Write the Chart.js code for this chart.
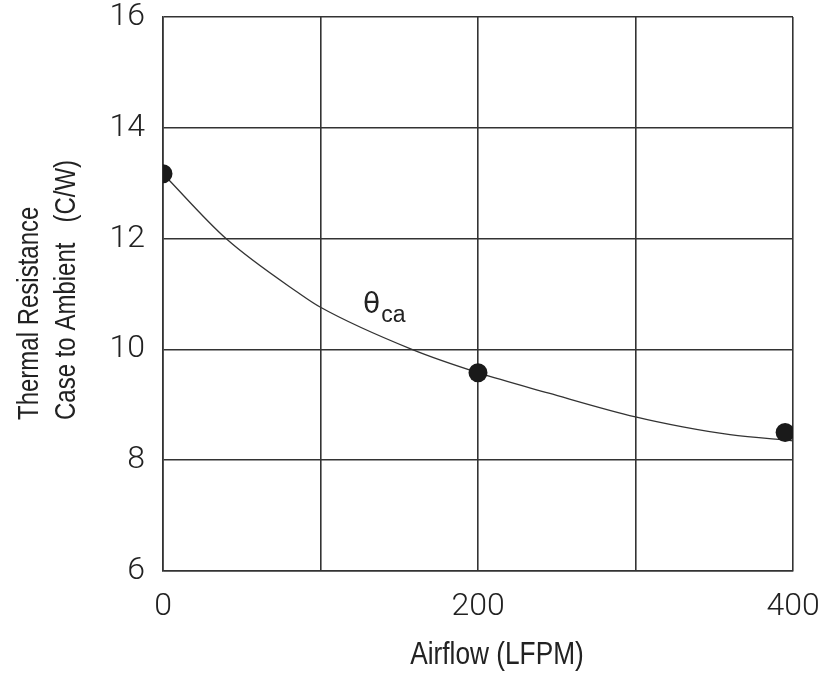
<!DOCTYPE html>
<html>
<head>
<meta charset="utf-8">
<title>Thermal Resistance vs Airflow</title>
<script src="https://cdn.jsdelivr.net/npm/chart.js@4.4.1/dist/chart.umd.min.js"></script>
<style>
  html, body { margin: 0; padding: 0; background: #ffffff; }
  #wrap { width: 829px; height: 675px; }
</style>
</head>
<body>
<div id="wrap"><canvas id="chart" width="829" height="675"></canvas></div>
<script>
// Measured points: case-to-ambient thermal resistance at each airflow
const airflow = [0, 200, 395];
const thetaCa = [13.17, 9.58, 8.5];

// Fitted trend curve drawn through the measurements
const curveAirflow = [0, 40, 87, 100, 158, 200, 245, 300, 330, 360, 400];
const curveTheta = [13.17, 12.0, 11.0, 10.76, 10.0, 9.58, 9.21, 8.78, 8.6, 8.46, 8.35];

// Axis ranges and labelled ticks
const xTicksLabelled = [0, 200, 400];
const yTicks = [6, 8, 10, 12, 14, 16];

const yTitleLines = ['Thermal Resistance', 'Case to Ambient   (C/W)'];
const xTitle = 'Airflow (LFPM)';
const curveName = 'θ';
const curveSub = 'ca';

const TEXT = '#222222';
const GRID = '#333333';
const TITLE_FONT = '"Liberation Sans", Arial, sans-serif';
const TICK_FONT = 'Roboto, "Liberation Sans", sans-serif';
const CONDENSE = 0.8; // horizontal squeeze for the narrow title lettering

const curvePoints = curveAirflow.map((x, i) => ({ x, y: curveTheta[i] }));
const markPoints = airflow.map((x, i) => ({ x, y: thetaCa[i] }));

// Axis titles and the curve label drawn on top of the plot
const annotations = {
  id: 'annotations',
  afterDraw(chart) {
    const { ctx, scales } = chart;
    ctx.save();
    ctx.fillStyle = TEXT;
    ctx.textBaseline = 'alphabetic';

    // rotated, bottom-aligned two-line y title
    ctx.font = '30px ' + TITLE_FONT;
    ctx.textAlign = 'left';
    ctx.save();
    ctx.translate(0, 420);
    ctx.rotate(-Math.PI / 2);
    ctx.scale(CONDENSE, 1);
    ctx.fillText(yTitleLines[0], 0, 38);
    ctx.fillText(yTitleLines[1], 0, 75);
    ctx.restore();

    // x title centred under the plot
    ctx.save();
    ctx.font = '32px ' + TITLE_FONT;
    ctx.textAlign = 'center';
    ctx.translate(497, 664);
    ctx.scale(0.82, 1);
    ctx.fillText(xTitle, 0, 0);
    ctx.restore();

    // theta_ca label beside the curve
    const lx = scales.x.getPixelForValue(127);
    const ly = scales.y.getPixelForValue(10.66);
    ctx.textAlign = 'left';
    ctx.font = '28px "DejaVu Sans", sans-serif';
    ctx.fillText(curveName, lx, ly);
    const w = ctx.measureText(curveName).width;
    ctx.font = '23px ' + TITLE_FONT;
    ctx.fillText(curveSub, lx + w + 1, ly + 9);
    ctx.restore();
  }
};

new Chart(document.getElementById('chart'), {
  type: 'scatter',
  data: {
    datasets: [
      {
        label: 'curve',
        data: curvePoints,
        showLine: true,
        borderColor: '#333333',
        borderWidth: 1.3,
        pointRadius: 0,
        cubicInterpolationMode: 'monotone',
        order: 2
      },
      {
        label: 'measured',
        data: markPoints,
        showLine: false,
        pointRadius: 9.5,
        pointBackgroundColor: '#1a1a1a',
        pointBorderColor: '#1a1a1a',
        pointBorderWidth: 0,
        order: 1
      }
    ]
  },
  options: {
    responsive: false,
    animation: false,
    devicePixelRatio: 1,
    layout: { padding: { top: 17, right: 36, left: 0, bottom: 0 } },
    plugins: {
      legend: { display: false },
      tooltip: { enabled: false },
      title: { display: false }
    },
    scales: {
      x: {
        type: 'linear',
        min: 0,
        max: 400,
        afterFit(scale) {
          scale.height = 104;
          scale.paddingLeft = 0;
          scale.paddingRight = 0;
        },
        ticks: {
          stepSize: 100,
          padding: 20,
          color: TEXT,
          font: { family: TICK_FONT, size: 32, weight: '300', lineHeight: 1 },
          maxRotation: 0,
          autoSkip: false,
          callback: (v) => (xTicksLabelled.includes(v) ? String(v) : '')
        },
        grid: { color: GRID, lineWidth: 1.6, drawTicks: false },
        border: { color: GRID, width: 1.6 }
      },
      y: {
        type: 'linear',
        min: yTicks[0],
        max: yTicks[yTicks.length - 1],
        afterFit(scale) {
          scale.width = 163;
          scale.paddingTop = 0;
          scale.paddingBottom = 0;
        },
        afterBuildTicks(scale) { scale.ticks = yTicks.map(v => ({ value: v })); },
        ticks: {
          padding: 18,
          color: TEXT,
          font: { family: TICK_FONT, size: 32, weight: '300', lineHeight: 1 }
        },
        grid: { color: GRID, lineWidth: 1.6, drawTicks: false },
        border: { color: GRID, width: 1.6 }
      }
    }
  },
  plugins: [annotations]
});
</script>
</body>
</html>
